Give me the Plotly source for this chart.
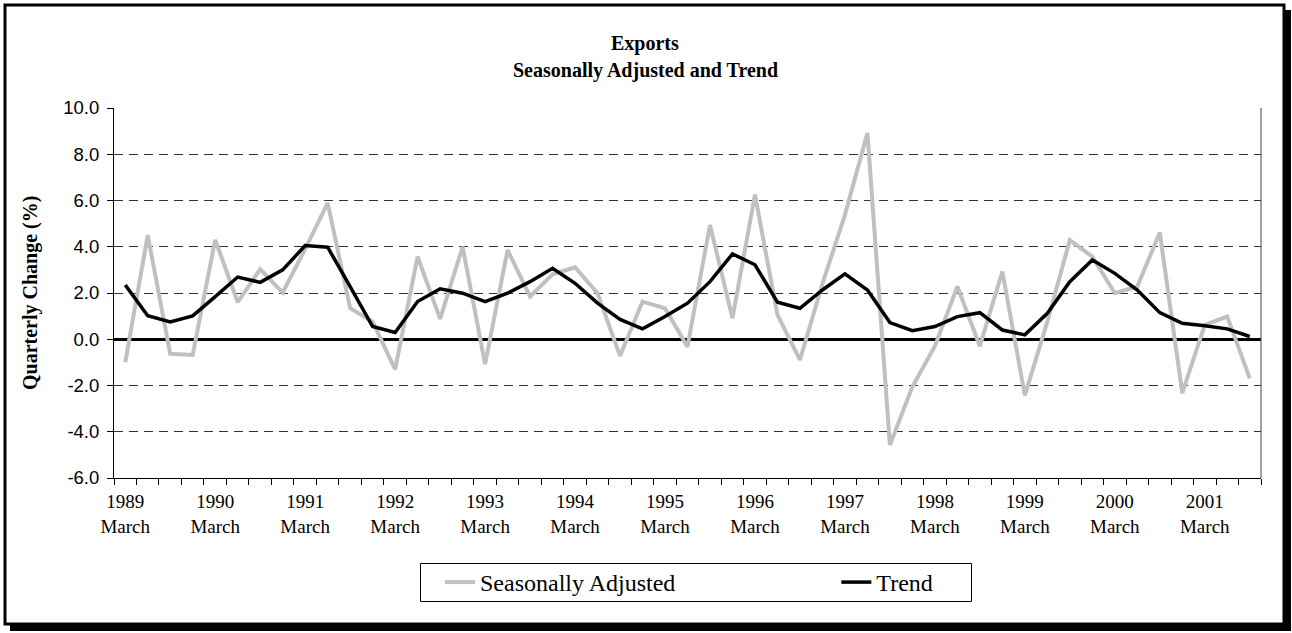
import plotly.graph_objects as go

# ---- data ----
years = [1989, 1990, 1991, 1992, 1993, 1994, 1995, 1996, 1997, 1998, 1999, 2000, 2001]
months = ["March", "June", "September", "December"]
quarters = [f"{m} {y}" for y in years for m in months][:51]

seasonally_adjusted = [-1.0, 4.5, -0.63, -0.68, 4.3, 1.6, 3.03, 2.02, 3.9, 5.9, 1.34, 0.76, -1.3,
                       3.57, 0.88, 4.0, -1.08, 3.86, 1.84, 2.81, 3.11, 1.99, -0.72, 1.63, 1.34, -0.32, 4.94, 0.91,
                       6.25, 1.05, -0.89, 2.4, 5.38, 8.92, -4.57, -2.05, -0.3, 2.28, -0.3, 2.93, -2.43,
                       0.76, 4.29, 3.57, 1.99, 2.28, 4.61, -2.33, 0.62, 0.98, -1.69]
trend = [2.35, 1.02, 0.75, 1.01, 1.84, 2.69, 2.46, 3.0, 4.05, 3.98, 2.28, 0.55, 0.29,
         1.63, 2.18, 1.99, 1.63, 1.99, 2.49, 3.07, 2.42, 1.56, 0.86, 0.45, 0.98, 1.56, 2.49, 3.69,
         3.22, 1.6, 1.34, 2.13, 2.83, 2.13, 0.72, 0.37, 0.55, 0.98, 1.15, 0.4, 0.19,
         1.12, 2.49, 3.43, 2.85, 2.13, 1.15, 0.69, 0.58, 0.45, 0.12]

y_ticks = [-6, -4, -2, 0, 2, 4, 6, 8, 10]

x = list(range(len(quarters)))
label_idx = [i for i, q in enumerate(quarters) if q.startswith("March")]
label_text = [quarters[i].split(" ")[1] + "<br>March" for i in label_idx]
boundaries = [i - 0.5 for i in range(len(quarters) + 1)]

W, H = 1292, 633
L, R, T, B = 114, 31, 108, 155
PW, PH = W - L - R, H - T - B


def px(xp):
    return (xp - L) / PW


def py(yp):
    return (H - B - yp) / PH


SERIF = "Liberation Serif"
SANS = "Liberation Sans"
NB = "\u00a0"

fig = go.Figure()
fig.add_trace(go.Scatter(x=x, y=seasonally_adjusted, mode="lines",
                         name="Seasonally Adjusted" + NB * 26,
                         line=dict(color="#c0c0c0", width=4)))
fig.add_trace(go.Scatter(x=x, y=trend, mode="lines", name="Trend",
                         line=dict(color="#000000", width=3.5)))

shapes = [
    dict(type="line", xref="paper", yref="paper", x0=1, x1=1, y0=0, y1=1,
         line=dict(color="#404040", width=1)),
    # legend box
    dict(type="rect", xref="paper", yref="paper", x0=px(420.5), x1=px(971.5), y0=py(563.5), y1=py(601.5),
         line=dict(color="black", width=1)),
    # outer frame with shadow
    dict(type="rect", xref="paper", yref="paper", x0=px(5), x1=px(1284), y0=py(5), y1=py(624),
         line=dict(color="black", width=3)),
    dict(type="rect", xref="paper", yref="paper", x0=px(1284), x1=px(1291), y0=py(10), y1=py(631),
         line=dict(width=0), fillcolor="black"),
    dict(type="rect", xref="paper", yref="paper", x0=px(10), x1=px(1291), y0=py(624), y1=py(631),
         line=dict(width=0), fillcolor="black"),
]

annotations = [
    dict(text="<b>Exports</b>", xref="paper", yref="paper", x=px(645), y=py(43),
         xanchor="center", yanchor="middle", showarrow=False,
         font=dict(family=SERIF, size=20, color="black")),
    dict(text="<b>Seasonally Adjusted and Trend</b>", xref="paper", yref="paper", x=px(645), y=py(71),
         xanchor="center", yanchor="middle", showarrow=False,
         font=dict(family=SERIF, size=20, color="black")),
    dict(text="<b>Quarterly Change (%)</b>", xref="paper", yref="paper",
         x=px(30), y=py(293), xanchor="center", yanchor="middle", textangle=-90, showarrow=False,
         font=dict(family=SERIF, size=20, color="black")),
]

fig.update_layout(
    width=W, height=H,
    margin=dict(l=L, r=R, t=T, b=B),
    paper_bgcolor="white", plot_bgcolor="white",
    xaxis=dict(range=[-0.5, len(quarters) - 0.5], tickmode="array", tickvals=label_idx, ticktext=label_text,
               ticks="outside", ticklen=6, tickcolor="rgba(0,0,0,0)",
               tickfont=dict(family=SERIF, size=19, color="black"),
               showline=True, linecolor="black", linewidth=1, showgrid=False, zeroline=False,
               minor=dict(tickmode="array", tickvals=boundaries, ticks="outside", ticklen=6,
                          tickcolor="black", tickwidth=1, showgrid=False)),
    yaxis=dict(range=[-6, 10], tickmode="array", tickvals=y_ticks,
               ticktext=[f"{v:.1f}" for v in y_ticks],
               ticks="outside", ticklen=6, tickcolor="black", ticklabelstandoff=4,
               tickfont=dict(family=SANS, size=18.5, color="black"),
               showline=True, linecolor="black", linewidth=1,
               showgrid=True, gridcolor="#333333", gridwidth=1, griddash="9px,6px",
               zeroline=True, zerolinecolor="black", zerolinewidth=3),
    legend=dict(orientation="h", x=px(440), xanchor="left", y=py(582.5), yanchor="middle",
                borderwidth=0, bgcolor="rgba(0,0,0,0)",
                font=dict(family=SERIF, size=24, color="black")),
    annotations=annotations,
    shapes=shapes,
)

fig.write_html("out.html", config={"displayModeBar": False},
               post_script="document.body.style.margin='0px';")
